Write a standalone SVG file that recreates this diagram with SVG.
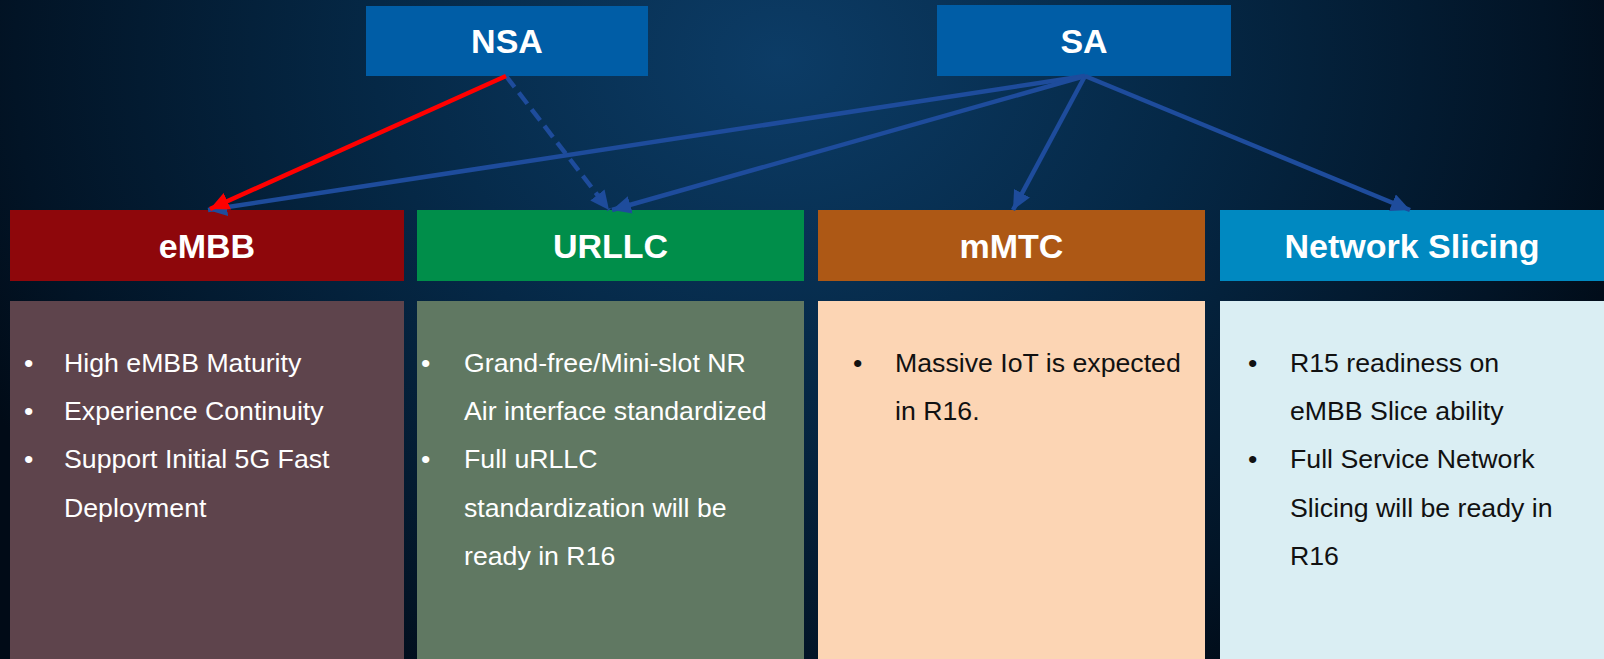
<svg xmlns="http://www.w3.org/2000/svg" width="1604" height="659" viewBox="0 0 1604 659">
  <defs>
    <radialGradient id="bg" gradientUnits="userSpaceOnUse" cx="780" cy="60" r="900" gradientTransform="translate(780 60) scale(1 0.8) translate(-780 -60)">
      <stop offset="0" stop-color="#0c3c66"/>
      <stop offset="0.45" stop-color="#052846"/>
      <stop offset="0.85" stop-color="#021426"/>
      <stop offset="1" stop-color="#010b17"/>
    </radialGradient>
    <marker id="arrBlue" markerUnits="userSpaceOnUse" markerWidth="22" markerHeight="20" refX="19" refY="9" orient="auto">
      <path d="M0,0 L19,9 L0,18 Z" fill="#1e4c9c"/>
    </marker>
    <marker id="arrRed" markerUnits="userSpaceOnUse" markerWidth="22" markerHeight="20" refX="19" refY="9" orient="auto">
      <path d="M0,0 L19,9 L0,18 Z" fill="#ff0000"/>
    </marker>
    <style>
      .hdr { font-family: "Liberation Sans", Arial, sans-serif; font-weight: bold; font-size: 34px; fill: #ffffff; text-anchor: middle; }
      .body { font-family: "Liberation Sans", Arial, sans-serif; font-size: 26.7px; }
      .light { fill: #ffffff; }
      .dark { fill: #111111; }
      .blue { stroke: #1e4c9c; stroke-width: 4.5; fill: none; marker-end: url(#arrBlue); }
      .red { stroke: #ff0000; stroke-width: 4.5; fill: none; marker-end: url(#arrRed); }
    </style>
  </defs>

  <rect x="0" y="0" width="1604" height="659" fill="url(#bg)"/>

  <g id="nsa">
    <rect x="366" y="6" width="282" height="70" fill="#005da6"/>
    <text class="hdr" x="507" y="53">NSA</text>
  </g>
  <g id="sa">
    <rect x="937" y="5" width="294" height="71" fill="#005da6"/>
    <text class="hdr" x="1084" y="53">SA</text>
  </g>

  <g id="embb">
    <rect x="10" y="210" width="394" height="71" fill="#8e070b"/>
    <text class="hdr" x="207" y="258">eMBB</text>
    <rect x="10" y="301" width="394" height="358" fill="#5e444c"/>
    <g class="body light">
      <text x="24" y="372">•</text><text x="64" y="372">High eMBB Maturity</text>
      <text x="24" y="420">•</text><text x="64" y="420">Experience Continuity</text>
      <text x="24" y="468">•</text><text x="64" y="468">Support Initial 5G Fast</text>
      <text x="64" y="517">Deployment</text>
    </g>
  </g>

  <g id="urllc">
    <rect x="417" y="210" width="387" height="71" fill="#008e4a"/>
    <text class="hdr" x="610.5" y="258">URLLC</text>
    <rect x="417" y="301" width="387" height="358" fill="#607862"/>
    <g class="body light">
      <text x="421" y="372">•</text><text x="464" y="372">Grand-free/Mini-slot NR</text>
      <text x="464" y="420">Air interface standardized</text>
      <text x="421" y="468">•</text><text x="464" y="468">Full uRLLC</text>
      <text x="464" y="517">standardization will be</text>
      <text x="464" y="565">ready in R16</text>
    </g>
  </g>

  <g id="mmtc">
    <rect x="818" y="210" width="387" height="71" fill="#ad5815"/>
    <text class="hdr" x="1011.5" y="258">mMTC</text>
    <rect x="818" y="301" width="387" height="358" fill="#fcd5b4"/>
    <g class="body dark">
      <text x="853" y="372">•</text><text x="895" y="372">Massive IoT is expected</text>
      <text x="895" y="420">in R16.</text>
    </g>
  </g>

  <g id="network-slicing">
    <rect x="1220" y="210" width="384" height="71" fill="#0089c1"/>
    <text class="hdr" x="1412" y="258">Network Slicing</text>
    <rect x="1220" y="301" width="384" height="358" fill="#daeef3"/>
    <g class="body dark">
      <text x="1248" y="372">•</text><text x="1290" y="372">R15 readiness on</text>
      <text x="1290" y="420">eMBB Slice ability</text>
      <text x="1248" y="468">•</text><text x="1290" y="468">Full Service Network</text>
      <text x="1290" y="517">Slicing will be ready in</text>
      <text x="1290" y="565">R16</text>
    </g>
  </g>

  <g id="connectors">
    <line class="blue" x1="1085" y1="76" x2="208" y2="210"/>
    <line class="blue" x1="1085" y1="76" x2="612" y2="210"/>
    <line class="blue" x1="1085" y1="76" x2="1013" y2="210"/>
    <line class="blue" x1="1085" y1="76" x2="1410" y2="210"/>
    <line class="blue" x1="506" y1="76" x2="609" y2="210" stroke-dasharray="14 7"/>
    <line class="red" x1="506" y1="76" x2="210" y2="209"/>
  </g>
</svg>
